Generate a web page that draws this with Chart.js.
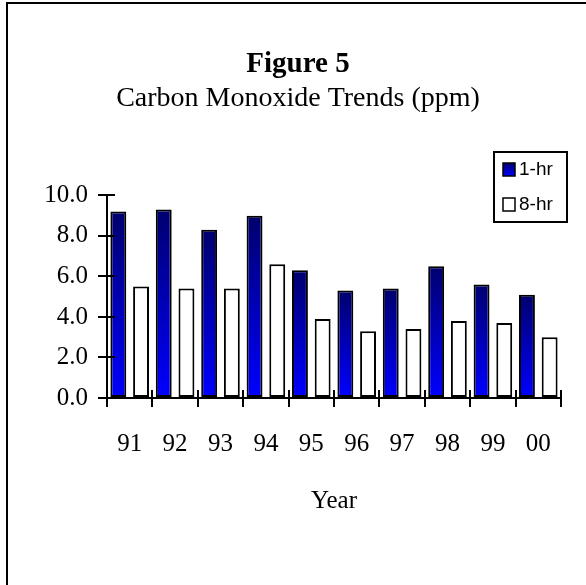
<!DOCTYPE html>
<html>
<head>
<meta charset="utf-8">
<title>Figure 5 - Carbon Monoxide Trends</title>
<script src="https://cdn.jsdelivr.net/npm/chart.js@4.4.1/dist/chart.umd.min.js"></script>
<style>
  html, body { margin: 0; padding: 0; background: #fff; }
  canvas { display: block; }
</style>
</head>
<body>
<canvas id="coChart" width="586" height="585"></canvas>
<script>
const YEARS = ['91', '92', '93', '94', '95', '96', '97', '98', '99', '00'];
const ONE_HR = [9.2, 9.3, 8.3, 9.0, 6.3, 5.3, 5.4, 6.5, 5.6, 5.1];
const EIGHT_HR = [5.5, 5.4, 5.4, 6.6, 3.9, 3.3, 3.4, 3.8, 3.7, 3.0];
const Y_TICKS = [0, 2, 4, 6, 8, 10];

const SERIF = '"Liberation Serif", "Times New Roman", serif';
const SANS = '"Liberation Sans", Arial, sans-serif';

// each blue bar fades from navy at its top to bright blue at the base
function blueGradient(context) {
  const chart = context.chart;
  const y = chart.scales.y;
  if (!y || context.type !== 'data') return '#0000ff';
  const top = y.getPixelForValue(context.raw);
  const base = y.getPixelForValue(0);
  if (!isFinite(top) || !isFinite(base) || top === base) return '#0000ff';
  const g = chart.ctx.createLinearGradient(0, top, 0, base);
  g.addColorStop(0, '#00006e');
  g.addColorStop(1, '#0000ff');
  return g;
}

// frame, tick marks crossing the axes, and the boxed legend
const extras = {
  id: 'extras',
  afterDraw(chart) {
    const ctx = chart.ctx;
    const x = chart.scales.x;
    const y = chart.scales.y;
    ctx.save();
    ctx.strokeStyle = '#000';
    ctx.lineWidth = 2;

    // outer frame (only left and top edges fall inside the picture)
    ctx.beginPath();
    ctx.moveTo(7, 600);
    ctx.lineTo(7, 3);
    ctx.lineTo(600, 3);
    ctx.stroke();

    // inner half of the tick marks
    ctx.beginPath();
    y.ticks.forEach((t, i) => {
      const py = Math.round(y.getPixelForTick(i));
      ctx.moveTo(x.left, py);
      ctx.lineTo(x.left + 8, py);
    });
    const step = (x.right - x.left) / YEARS.length;
    for (let i = 0; i <= YEARS.length; i++) {
      const px = Math.round(x.left + i * step);
      ctx.moveTo(px, y.bottom);
      ctx.lineTo(px, y.bottom - 8);
    }
    ctx.stroke();

    // legend
    ctx.lineWidth = 2;
    ctx.strokeRect(494, 152, 73, 70);
    ctx.font = '19px ' + SANS;
    ctx.textBaseline = 'middle';
    ctx.textAlign = 'left';
    chart.data.datasets.forEach((ds, i) => {
      const sy = 163 + i * 35;
      if (i === 0) {
        const g = ctx.createLinearGradient(0, sy, 0, sy + 13);
        g.addColorStop(0, '#00006e');
        g.addColorStop(1, '#0000ff');
        ctx.fillStyle = g;
      } else {
        ctx.fillStyle = '#fff';
      }
      ctx.fillRect(503, sy, 12, 13);
      ctx.lineWidth = 1.5;
      ctx.strokeRect(503, sy, 12, 13);
      ctx.fillStyle = '#000';
      ctx.fillText(ds.label, 519, sy + 7);
    });
    ctx.restore();
  }
};

const ctx = document.getElementById('coChart').getContext('2d');
new Chart(ctx, {
  type: 'bar',
  data: {
    labels: YEARS,
    datasets: [
      {
        label: '1-hr',
        data: ONE_HR,
        backgroundColor: blueGradient,
        borderColor: '#000',
        borderWidth: 2,
        borderSkipped: false,
        categoryPercentage: 1.0,
        barPercentage: 0.7
      },
      {
        label: '8-hr',
        data: EIGHT_HR,
        backgroundColor: '#fff',
        borderColor: '#000',
        borderWidth: 2,
        borderSkipped: false,
        categoryPercentage: 1.0,
        barPercentage: 0.7
      }
    ]
  },
  options: {
    responsive: false,
    animation: false,
    layout: {
      padding: { left: 35, right: 25, top: 0, bottom: 69 }
    },
    plugins: {
      legend: { display: false },
      tooltip: { enabled: false },
      title: {
        display: true,
        text: 'Figure 5',
        color: '#000',
        font: { family: SERIF, size: 29, weight: 'bold', lineHeight: 1.2 },
        padding: { top: 47, bottom: 0 }
      },
      subtitle: {
        display: true,
        text: 'Carbon Monoxide Trends (ppm)',
        color: '#000',
        font: { family: SERIF, size: 28, lineHeight: 1.2 },
        padding: { top: 0, bottom: 80 }
      }
    },
    scales: {
      x: {
        grid: {
          offset: true,
          drawOnChartArea: false,
          drawTicks: true,
          tickLength: 9,
          color: '#000',
          lineWidth: 2
        },
        border: { display: true, color: '#000', width: 2 },
        ticks: {
          color: '#000',
          font: { family: SERIF, size: 25 },
          padding: 22,
          maxRotation: 0
        },
        title: {
          display: true,
          text: 'Year',
          color: '#000',
          font: { family: SERIF, size: 25 },
          padding: { top: 5, bottom: 0 }
        }
      },
      y: {
        min: 0,
        max: 10,
        afterBuildTicks: scale => {
          scale.ticks = Y_TICKS.map(v => ({ value: v }));
        },
        afterFit: scale => {
          scale.width = 72;
        },
        grid: {
          drawOnChartArea: false,
          drawTicks: true,
          tickLength: 9,
          color: '#000',
          lineWidth: 2
        },
        border: { display: true, color: '#000', width: 2 },
        ticks: {
          color: '#000',
          font: { family: SERIF, size: 25 },
          padding: 10,
          callback: v => Number(v).toFixed(1)
        }
      }
    }
  },
  plugins: [extras]
});
</script>
</body>
</html>
